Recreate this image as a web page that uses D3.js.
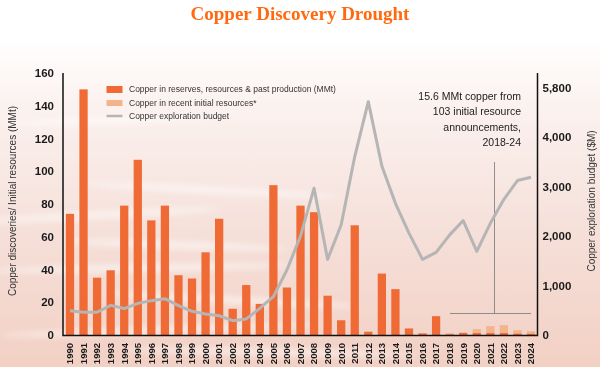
<!DOCTYPE html>
<html><head><meta charset="utf-8">
<script src="https://cdn.jsdelivr.net/npm/d3@7"></script>
<style>html,body{margin:0;padding:0;background:#fff;}svg{display:block;}</style>
</head><body>
<svg id="chart" width="600" height="367"></svg>
<script>
const years = d3.range(1990, 2025).map(String);
const reserves = [74,150,35,39.5,79,107,70,79,36.5,34.5,50.5,71,16,30.5,19,91.5,29,79,75,24,9,67,2,37.5,28,4,1,11.5,0.5,1.3,1.2,1.2,1.2,1,0.9];
const recentInitial = [0,0,0,0,0,0,0,0,0,0,0,0,0,0,0,0,0,0,0,0,0,0,0,0,0,0,0,0,0.6,0.2,2.4,4.2,4.8,2,1.4];
const budget = [490,460,460,600,535,640,695,735,595,480,425,390,290,325,540,775,1315,2000,2970,1530,2230,3610,4720,3420,2665,2060,1530,1670,2025,2315,1690,2260,2745,3125,3190];
const leftTicks = [0,20,40,60,80,100,120,140,160];
const rightTicks = [0,1000,2000,3000,4000,5000];
const rightTickLabels = ["0","1,000","2,000","3,000","4,000","5,800"];
const legendLabels = ["Copper in reserves, resources & past production (MMt)","Copper in recent initial resources*","Copper exploration budget"];
const noteLines = ["15.6 MMt copper from","103 initial resource","announcements,","2018-24"];

const svg = d3.select("#chart");
const defs = svg.append("defs");
const bg = defs.append("linearGradient").attr("id","bg").attr("x1",0).attr("x2",0).attr("y1",0).attr("y2",1);
bg.append("stop").attr("offset","0%").attr("stop-color","#ffffff");
bg.append("stop").attr("offset","10%").attr("stop-color","#ffffff");
bg.append("stop").attr("offset","30%").attr("stop-color","#fbf1ee");
bg.append("stop").attr("offset","65%").attr("stop-color","#f5dfd8");
bg.append("stop").attr("offset","100%").attr("stop-color","#f2d0c4");
svg.append("rect").attr("width",600).attr("height",367).attr("fill","url(#bg)");
const blur = defs.append("filter").attr("id","blur").attr("x","-20%").attr("y","-200%").attr("width","140%").attr("height","500%");
blur.append("feGaussianBlur").attr("stdDeviation",3);
const streaks = [[120,0,230,-2],[190,80,260,3],[215,-20,240,-3],[245,60,230,2],[268,-10,300,-1],[300,100,260,3],[330,0,320,-2],[352,120,300,1]];
svg.append("g").attr("filter","url(#blur)").selectAll("ellipse").data(streaks).join("ellipse")
  .attr("cx",d=>d[1]+d[2]/2).attr("cy",d=>d[0]).attr("rx",d=>d[2]/2).attr("ry",3.5)
  .attr("transform",d=>`rotate(${d[3]},${d[1]+d[2]/2},${d[0]})`)
  .attr("fill","#ffffff").attr("opacity",0.55);

const x = d3.scaleBand().domain(years).range([63.2,537.8]).paddingInner(0.39).paddingOuter(0.195);
const yL = d3.scaleLinear().domain([0,160]).range([335,73]);
const yR = d3.scaleLinear().domain([0,5300]).range([335,73]);

const orange = "#ef6a35", light = "#f3b48c", gray = "#b5b5b5";

svg.append("text").attr("x",300).attr("y",20).attr("text-anchor","middle")
  .attr("font-family","'Liberation Serif','Times New Roman',serif").attr("font-weight","bold")
  .attr("font-size",19).attr("fill","#ff6a10").text("Copper Discovery Drought");

svg.append("g").selectAll("rect").data(years).join("rect")
  .attr("x",d=>x(d)).attr("width",x.bandwidth())
  .attr("y",(d,i)=>yL(reserves[i])).attr("height",(d,i)=>yL(0)-yL(reserves[i]))
  .attr("fill",orange);
svg.append("g").selectAll("rect").data(years).join("rect")
  .attr("x",d=>x(d)).attr("width",x.bandwidth())
  .attr("y",(d,i)=>yL(reserves[i]+recentInitial[i])).attr("height",(d,i)=>yL(reserves[i])-yL(reserves[i]+recentInitial[i]))
  .attr("fill",light);

svg.append("line").attr("x1",494.5).attr("x2",494.5).attr("y1",162).attr("y2",313.5).attr("stroke","#777").attr("stroke-width",0.8);
svg.append("line").attr("x1",450).attr("x2",531).attr("y1",313.5).attr("y2",313.5).attr("stroke","#777").attr("stroke-width",0.8);

const line = d3.line().x((d,i)=>x(years[i])+x.bandwidth()/2).y(d=>yR(d));
svg.append("path").datum(budget).attr("d",line).attr("fill","none").attr("stroke",gray).attr("stroke-width",3).attr("stroke-linejoin","round");

const font = "'Liberation Sans',Arial,sans-serif";
const axL = svg.append("g").attr("transform","translate(63,0)").call(d3.axisLeft(yL).tickValues(leftTicks).tickSize(0).tickPadding(9));
const axR = svg.append("g").attr("transform","translate(537.5,0)").call(d3.axisRight(yR).tickValues(rightTicks).tickSize(0).tickPadding(5).tickFormat((d,i)=>rightTickLabels[i]));
const axB = svg.append("g").attr("transform","translate(0,335)").call(d3.axisBottom(x).tickSize(0).tickPadding(0));
[axL,axR,axB].forEach(a=>{a.select(".domain").remove();a.selectAll("text").attr("font-family",font).attr("font-weight","bold").attr("fill","#1a1a1a");});
axL.selectAll("text").attr("font-size",11.5);
axR.selectAll("text").attr("font-size",11.5);
axB.selectAll("text").attr("font-size",9.5).attr("transform","rotate(-90)").attr("text-anchor","end").attr("dy","0.35em").attr("x",-8).attr("y",0);

svg.append("path").attr("d","M63,73V335.5H537.5V73").attr("fill","none").attr("stroke","#111").attr("stroke-width",1.5);

svg.append("text").attr("transform","translate(16,201) rotate(-90)").attr("text-anchor","middle")
  .attr("font-family",font).attr("font-size",10).attr("fill","#333").text("Copper discoveries/ Initial resources (MMt)");
svg.append("text").attr("transform","translate(595,201) rotate(-90)").attr("text-anchor","middle")
  .attr("font-family",font).attr("font-size",10).attr("fill","#333").text("Copper exploration budget ($M)");

const lg = svg.append("g").attr("font-family",font).attr("font-size",8.5).attr("fill","#333");
const ly = [89.5,103,116];
lg.append("rect").attr("x",106.5).attr("y",ly[0]-3.5).attr("width",16).attr("height",7).attr("fill",orange);
lg.append("rect").attr("x",106.5).attr("y",ly[1]-3).attr("width",16).attr("height",6).attr("fill",light);
lg.append("line").attr("x1",106.5).attr("x2",122.5).attr("y1",ly[2]).attr("y2",ly[2]).attr("stroke",gray).attr("stroke-width",2.5);
legendLabels.forEach((t,i)=>lg.append("text").attr("x",129).attr("y",ly[i]).attr("dy","0.35em").text(t));

const nt = svg.append("text").attr("font-family",font).attr("font-size",10.5).attr("fill","#222").attr("text-anchor","end");
noteLines.forEach((t,i)=>nt.append("tspan").attr("x",521).attr("y",96+i*15.5).attr("dy","0.35em").text(t));
</script>
</body></html>
